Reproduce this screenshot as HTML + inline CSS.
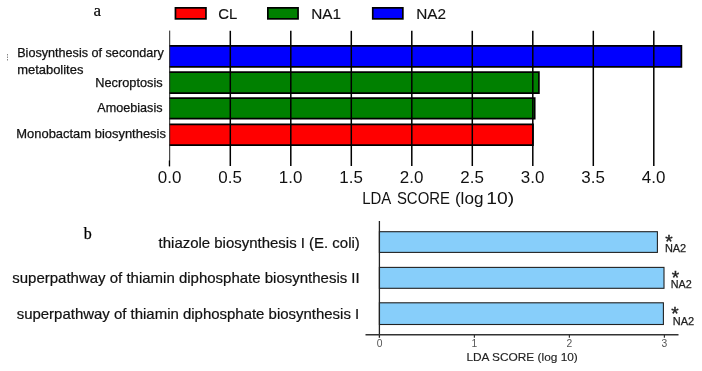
<!DOCTYPE html>
<html>
<head>
<meta charset="utf-8">
<style>
html,body{margin:0;padding:0;background:#fff;}
body{width:702px;height:371px;overflow:hidden;}
svg{display:block;-webkit-font-smoothing:antialiased;will-change:transform;}
.s{font-family:"Liberation Sans",sans-serif;}
.r{font-family:"Liberation Serif",serif;}
</style>
</head>
<body>
<svg width="702" height="371" viewBox="0 0 702 371">
<rect x="0" y="0" width="702" height="371" fill="#fff"/>
<!-- ===== Part a ===== -->
<text class="r" x="93.5" y="16.2" font-size="17" fill="#000" stroke="#000" stroke-width="0.2">a</text>
<!-- legend -->
<rect x="175.45" y="7.85" width="30.5" height="11.0" fill="#ff0000" stroke="#000" stroke-width="1.7"/>
<text class="s" x="218.3" y="18.65" font-size="15.5" fill="#111" stroke="#111" stroke-width="0.15" textLength="19" lengthAdjust="spacingAndGlyphs">CL</text>
<rect x="267.85" y="7.85" width="30.2" height="11.0" fill="#008000" stroke="#000" stroke-width="1.7"/>
<text class="s" x="311.3" y="18.65" font-size="15.5" fill="#111" stroke="#111" stroke-width="0.15" textLength="29.8" lengthAdjust="spacingAndGlyphs">NA1</text>
<rect x="372.75" y="7.85" width="30.1" height="11.0" fill="#0000ff" stroke="#000" stroke-width="1.7"/>
<text class="s" x="416.2" y="18.65" font-size="15.5" fill="#111" stroke="#111" stroke-width="0.15" textLength="29.8" lengthAdjust="spacingAndGlyphs">NA2</text>

<!-- dotted mark -->
<line x1="7.5" y1="54" x2="7.5" y2="60.5" stroke="#888" stroke-width="1" stroke-dasharray="1.5,1"/>

<!-- bars -->
<rect x="169.5" y="45.9" width="511.9" height="20.9" fill="#0000ff"/>
<path d="M169.2 45.9H681.4V66.8H169.2" fill="none" stroke="#000" stroke-width="1.7"/>
<rect x="169.5" y="72.2" width="369.4" height="21.0" fill="#008000"/>
<path d="M169.2 72.2H538.9V93.2H169.2" fill="none" stroke="#000" stroke-width="1.7"/>
<rect x="169.5" y="98.1" width="365.2" height="20.6" fill="#008000"/>
<path d="M169.2 98.1H534.7V118.7H169.2" fill="none" stroke="#000" stroke-width="1.7"/>
<rect x="169.5" y="124.3" width="363.5" height="20.9" fill="#ff0000"/>
<path d="M169.2 124.3H533.0V145.2H169.2" fill="none" stroke="#000" stroke-width="1.7"/>

<!-- axis + gridlines -->
<line x1="169.7" y1="30.6" x2="169.7" y2="166.3" stroke="#222" stroke-width="1.0"/>
<line x1="169.4" y1="160.6" x2="169.4" y2="166.3" stroke="#000" stroke-width="1.2"/>
<g stroke="#000" stroke-width="1.5">
<line x1="230.3" y1="30.8" x2="230.3" y2="166"/>
<line x1="290.8" y1="30.8" x2="290.8" y2="166"/>
<line x1="351.3" y1="30.8" x2="351.3" y2="166"/>
<line x1="411.8" y1="30.8" x2="411.8" y2="166"/>
<line x1="472.3" y1="30.8" x2="472.3" y2="166"/>
<line x1="532.8" y1="30.8" x2="532.8" y2="166"/>
<line x1="593.3" y1="30.8" x2="593.3" y2="166"/>
<line x1="653.8" y1="30.8" x2="653.8" y2="166"/>
</g>
<!-- tick labels -->
<g class="s" font-size="16.4" fill="#111" text-anchor="middle">
<text x="169.6" y="183.2" textLength="23.6" lengthAdjust="spacingAndGlyphs">0.0</text>
<text x="230.1" y="183.2" textLength="23.6" lengthAdjust="spacingAndGlyphs">0.5</text>
<text x="290.6" y="183.2" textLength="23.6" lengthAdjust="spacingAndGlyphs">1.0</text>
<text x="351.1" y="183.2" textLength="23.6" lengthAdjust="spacingAndGlyphs">1.5</text>
<text x="411.6" y="183.2" textLength="23.6" lengthAdjust="spacingAndGlyphs">2.0</text>
<text x="472.1" y="183.2" textLength="23.6" lengthAdjust="spacingAndGlyphs">2.5</text>
<text x="532.6" y="183.2" textLength="23.6" lengthAdjust="spacingAndGlyphs">3.0</text>
<text x="593.1" y="183.2" textLength="23.6" lengthAdjust="spacingAndGlyphs">3.5</text>
<text x="653.6" y="183.2" textLength="23.6" lengthAdjust="spacingAndGlyphs">4.0</text>
</g>
<g class="s" font-size="16.8" fill="#111">
<text x="362.17" y="204.1" textLength="29.16" lengthAdjust="spacingAndGlyphs">LDA</text>
<text x="396.92" y="204.1" textLength="53.12" lengthAdjust="spacingAndGlyphs">SCORE</text>
<text x="454.93" y="204.1" textLength="28.5" lengthAdjust="spacingAndGlyphs">(log</text>
<text x="486.3" y="204.1" textLength="27.9" lengthAdjust="spacingAndGlyphs">10)</text>
</g>

<!-- y labels -->
<g class="s" font-size="12.4" fill="#111" stroke="#111" stroke-width="0.25">
<text x="17.2" y="56.7" textLength="146.6" lengthAdjust="spacingAndGlyphs">Biosynthesis of secondary</text>
<text x="17.2" y="73.9" textLength="66.2" lengthAdjust="spacingAndGlyphs">metabolites</text>
<text x="95.3" y="86.7" textLength="67.4" lengthAdjust="spacingAndGlyphs">Necroptosis</text>
<text x="97.3" y="111.7" textLength="65.2" lengthAdjust="spacingAndGlyphs">Amoebiasis</text>
<text x="16.3" y="137.6" textLength="149.6" lengthAdjust="spacingAndGlyphs">Monobactam biosynthesis</text>
</g>

<!-- ===== Part b ===== -->
<text class="r" x="83.8" y="239" font-size="16" fill="#000" stroke="#000" stroke-width="0.25">b</text>
<g class="s" font-size="14.1" fill="#111" stroke="#111" stroke-width="0.2">
<text x="158.6" y="248.2" textLength="201.2" lengthAdjust="spacingAndGlyphs">thiazole biosynthesis I (E. coli)</text>
<text x="12.3" y="283.1" textLength="347.4" lengthAdjust="spacingAndGlyphs">superpathway of thiamin diphosphate biosynthesis II</text>
<text x="16.7" y="318.6" textLength="342.5" lengthAdjust="spacingAndGlyphs">superpathway of thiamin diphosphate biosynthesis I</text>
</g>
<!-- bars b -->
<rect x="379.4" y="231.7" width="278" height="20.7" fill="#87cefa" stroke="#222" stroke-width="1.1"/>
<rect x="379.4" y="267.4" width="284.6" height="20.9" fill="#87cefa" stroke="#222" stroke-width="1.1"/>
<rect x="379.4" y="302.8" width="284" height="21.7" fill="#87cefa" stroke="#222" stroke-width="1.1"/>
<!-- axes b -->
<line x1="379.4" y1="221" x2="379.4" y2="337.8" stroke="#222" stroke-width="1.3"/>
<line x1="365.5" y1="334.8" x2="678.5" y2="334.8" stroke="#333" stroke-width="1.6"/>
<g stroke="#333" stroke-width="1.2">
<line x1="474.4" y1="334.8" x2="474.4" y2="337.8"/>
<line x1="569.4" y1="334.8" x2="569.4" y2="337.8"/>
<line x1="664.4" y1="334.8" x2="664.4" y2="337.8"/>
</g>
<g class="s" font-size="10.3" fill="#555" text-anchor="middle">
<text x="379.6" y="347.2">0</text>
<text x="474.4" y="347.2">1</text>
<text x="569.4" y="347.2">2</text>
<text x="664.4" y="347.2">3</text>
</g>
<text class="s" x="466.4" y="360.8" font-size="11.8" fill="#222" stroke="#222" stroke-width="0.15" textLength="111.4" lengthAdjust="spacingAndGlyphs">LDA SCORE (log 10)</text>
<!-- annotations -->
<g class="s" fill="#222">
<text x="665.3" y="248.2" font-size="19" stroke="#222" stroke-width="0.4">*</text>
<text x="664.9" y="251.8" font-size="10.9" stroke="#222" stroke-width="0.25" textLength="21.3" lengthAdjust="spacingAndGlyphs">NA2</text>
<text x="671.8" y="283.8" font-size="19" stroke="#222" stroke-width="0.4">*</text>
<text x="670.7" y="287.6" font-size="10.9" stroke="#222" stroke-width="0.25" textLength="21.0" lengthAdjust="spacingAndGlyphs">NA2</text>
<text x="671.3" y="319.6" font-size="19" stroke="#222" stroke-width="0.4">*</text>
<text x="672.8" y="324.5" font-size="10.9" stroke="#222" stroke-width="0.25" textLength="21.4" lengthAdjust="spacingAndGlyphs">NA2</text>
</g>
</svg>
</body>
</html>
